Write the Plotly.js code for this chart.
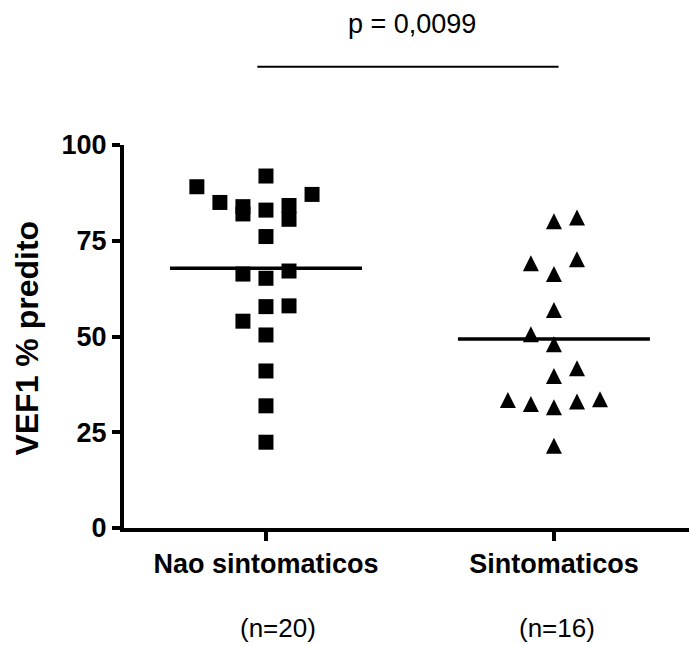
<!DOCTYPE html>
<html>
<head>
<meta charset="utf-8">
<script src="https://cdn.plot.ly/plotly-3.0.1.min.js"></script>
<style>
  html, body { margin: 0; padding: 0; background: #ffffff; }
  #chart { width: 689px; height: 645px; }
</style>
</head>
<body>
<div id="chart"></div>
<script>
// ---- data ----
const groupLabels = ['Nao sintomaticos', 'Sintomaticos'];
const groupCounts = ['(n=20)', '(n=16)'];
const groupPositions = [1, 2];
const yTickValues = [0, 25, 50, 75, 100];
const pValueText = 'p = 0,0099';

// "Nao sintomaticos" VEF1 % predito values and their scatter column (-3..+2)
const naoValues  = [89.1, 85.0, 83.9, 82.0, 91.9, 83.0, 84.2, 80.6, 87.1, 76.1,
                    66.3, 65.2, 67.1, 57.8, 58.0, 54.0, 50.4, 41.0, 31.9, 22.4];
const naoColumns = [-3, -2, -1, -1, 0, 0, 1, 1, 2, 0,
                    -1, 0, 1, 0, 1, -1, 0, 0, 0, 0];

// "Sintomaticos" values and their scatter column
const simValues  = [81.1, 80.1, 69.1, 66.3, 70.2, 56.9, 50.6, 48.0, 39.7, 41.7,
                    33.4, 32.4, 31.5, 33.0, 33.6, 21.5];
const simColumns = [1, 0, -1, 0, 1, 0, -1, 0, 0, 1,
                    -2, -1, 0, 1, 2, 0];

// ---- build ----
const FONT = 'Liberation Sans, Arial, sans-serif';
const colStep = 0.08;      // horizontal spacing of scatter columns
const meanHalf = 1 / 3;    // half-width of mean line

const mean = a => a.reduce((s, v) => s + v, 0) / a.length;
const naoX = naoColumns.map(c => groupPositions[0] + c * colStep);
const simX = simColumns.map(c => groupPositions[1] + c * colStep);
const naoMean = mean(naoValues);
const simMean = mean(simValues);

const traces = [
  {
    type: 'scatter', mode: 'markers', x: naoX, y: naoValues,
    marker: { symbol: 'square', size: 15, color: '#000000', line: { width: 0 } },
    hoverinfo: 'y', showlegend: false
  },
  {
    type: 'scatter', mode: 'markers', x: simX, y: simValues,
    marker: { symbol: 'arrow-down', angle: 180, standoff: 8, size: 16, color: '#000000', line: { width: 0 } },
    hoverinfo: 'y', showlegend: false
  },
  {
    type: 'scatter', mode: 'lines',
    x: [groupPositions[0] - meanHalf, groupPositions[0] + meanHalf],
    y: [naoMean, naoMean],
    line: { color: '#000000', width: 3.5 }, hoverinfo: 'skip', showlegend: false
  },
  {
    type: 'scatter', mode: 'lines',
    x: [groupPositions[1] - meanHalf, groupPositions[1] + meanHalf],
    y: [simMean, simMean],
    line: { color: '#000000', width: 3.5 }, hoverinfo: 'skip', showlegend: false
  }
];

const layout = {
  width: 689, height: 645,
  margin: { l: 124, r: 0, t: 145, b: 117, pad: 0 },
  paper_bgcolor: '#ffffff', plot_bgcolor: '#ffffff',
  showlegend: false,
  font: { family: FONT, color: '#000000' },
  xaxis: {
    range: [0.507, 2.469],
    tickmode: 'array', tickvals: groupPositions, ticktext: groupLabels,
    tickfont: { family: FONT, size: 27, weight: 'bold', color: '#000000' },
    ticks: 'outside', ticklen: 9, tickwidth: 4, tickcolor: '#000000',
    showline: true, linewidth: 4, linecolor: '#000000',
    showgrid: false, zeroline: false, fixedrange: true, automargin: false
  },
  yaxis: {
    range: [0, 100],
    tickmode: 'array', tickvals: yTickValues,
    tickfont: { family: FONT, size: 27, weight: 'bold', color: '#000000' },
    ticks: 'outside', ticklen: 8, tickwidth: 4, tickcolor: '#000000',
    showline: true, linewidth: 4, linecolor: '#000000',
    showgrid: false, zeroline: false, fixedrange: true, automargin: false
  },
  shapes: [
    { type: 'line', xref: 'x', yref: 'paper', x0: 0.970, x1: 2.016, y0: 1.2044, y1: 1.2044,
      line: { color: '#000000', width: 2 } }
  ],
  annotations: [
    { text: pValueText, xref: 'x', yref: 'paper', x: 1.506, y: 1.316,
      xanchor: 'center', yanchor: 'middle', showarrow: false,
      font: { family: FONT, size: 27, color: '#000000' } },
    { text: 'VEF1 % predito', xref: 'paper', yref: 'paper', x: -0.1725, y: 0.496,
      xanchor: 'center', yanchor: 'middle', textangle: -90, showarrow: false,
      font: { family: FONT, size: 32, weight: 'bold', color: '#000000' } },
    { text: groupCounts[0], xref: 'x', yref: 'paper', x: 1.042, y: -0.261,
      xanchor: 'center', yanchor: 'middle', showarrow: false,
      font: { family: FONT, size: 26, color: '#000000' } },
    { text: groupCounts[1], xref: 'x', yref: 'paper', x: 2.009, y: -0.261,
      xanchor: 'center', yanchor: 'middle', showarrow: false,
      font: { family: FONT, size: 26, color: '#000000' } }
  ]
};

Plotly.newPlot('chart', traces, layout, { displayModeBar: false, staticPlot: true });
</script>
</body>
</html>
